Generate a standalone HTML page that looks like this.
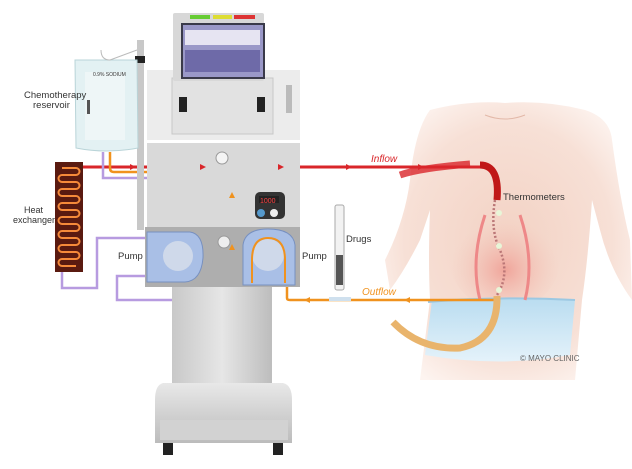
<!DOCTYPE html>
<html><head><meta charset="utf-8"><style>
html,body{margin:0;padding:0;background:#fff;width:632px;height:469px;overflow:hidden}
svg{display:block}
text{font-family:"Liberation Sans",sans-serif}
</style></head><body>
<svg width="632" height="469" viewBox="0 0 632 469" xmlns="http://www.w3.org/2000/svg">
<defs>
<linearGradient id="col" x1="0" x2="1"><stop offset="0" stop-color="#c8c8c8"/><stop offset=".5" stop-color="#e6e6e6"/><stop offset="1" stop-color="#bdbdbd"/></linearGradient>
<linearGradient id="base" x1="0" y1="0" x2="0" y2="1"><stop offset="0" stop-color="#e8e8e8"/><stop offset="1" stop-color="#bcbcbc"/></linearGradient>
<radialGradient id="skin" cx=".5" cy=".5" r=".6"><stop offset="0" stop-color="#f3d2c4"/><stop offset=".7" stop-color="#f7e0d6"/><stop offset="1" stop-color="#fdf4f0"/></radialGradient>
<radialGradient id="belly" cx=".5" cy=".6" r=".5"><stop offset="0" stop-color="#f0a49a"/><stop offset="1" stop-color="#f3c9bd" stop-opacity="0"/></radialGradient>
<linearGradient id="pants" x1="0" y1="0" x2="0" y2="1"><stop offset="0" stop-color="#b9dcf0"/><stop offset="1" stop-color="#e4f2fa"/></linearGradient>
</defs>

<!-- body -->
<path d="M430 110 Q470 100 505 103 Q545 100 585 110 Q610 118 612 140 Q620 200 630 240 L632 300 Q610 270 600 230 L592 200 Q588 260 582 300 L575 380 L420 380 L430 300 Q428 260 430 210 L420 240 Q405 270 390 290 L385 260 Q405 220 410 180 Q415 130 430 110Z" fill="url(#skin)"/>
<ellipse cx="505" cy="260" rx="55" ry="50" fill="url(#belly)"/>
<path d="M485 115 Q505 123 525 115" stroke="#e2b8a8" fill="none"/>
<path d="M432 300 Q500 295 575 300 L570 355 Q500 368 425 355Z" fill="url(#pants)"/>
<path d="M428 302 Q500 296 575 300" stroke="#9cc8e2" stroke-width="2" fill="none"/>
<!-- vessels -->
<path d="M485 215 Q470 260 480 300" stroke="#e88" stroke-width="3" fill="none"/>
<path d="M520 215 Q535 260 525 300" stroke="#e88" stroke-width="3" fill="none"/>
<path d="M495 200 Q490 230 500 250 Q510 275 497 295" stroke="#b77" stroke-width="2.5" stroke-dasharray="2 2" fill="none"/>

<!-- red inflow -->
<path d="M83 167 L480 167 Q500 167 497 200" stroke="#d9262a" stroke-width="3" fill="none"/>
<path d="M480 165 Q500 165 497 200" stroke="#c01818" stroke-width="7" fill="none"/>
<path d="M400 175 Q420 168 470 164" stroke="#d9262a" stroke-width="7" fill="none" opacity=".8"/>
<!-- orange outflow -->
<path d="M287 283 L287 298 Q287 300 290 300 L497 300" stroke="#f0921e" stroke-width="2.5" fill="none"/>
<path d="M497 296 Q498 340 460 348 Q420 350 393 322" stroke="#e9b46c" stroke-width="7" fill="none"/>
<path d="M110 152 L110 168 Q110 172 114 172 L232 172 L232 300 L248 300 L248 283" stroke="#f0921e" stroke-width="2.5" fill="none"/>
<!-- purple -->
<g stroke="#b79be0" stroke-width="2.5" fill="none">
<path d="M103 152 L103 178 L213 178 L213 300 L117 300 L117 276 L147 276"/>
<path d="M62 272 L62 288 L97 288 L97 238 L147 238"/>
</g>

<!-- heat exchanger -->
<rect x="55" y="162" width="28" height="110" fill="#5a1a10"/>
<path d="M62 168 h14 a3 3 0 0 1 0 7 h-14 a3 3 0 0 0 0 7 h14 a3 3 0 0 1 0 7 h-14 a3 3 0 0 0 0 7 h14 a3 3 0 0 1 0 7 h-14 a3 3 0 0 0 0 7 h14 a3 3 0 0 1 0 7 h-14 a3 3 0 0 0 0 7 h14 a3 3 0 0 1 0 7 h-14 a3 3 0 0 0 0 7 h14 a3 3 0 0 1 0 7 h-14 a3 3 0 0 0 0 7 h14 a3 3 0 0 1 0 7 h-14 a3 3 0 0 0 0 7 h14" stroke="#f58a3a" stroke-width="2" fill="none"/>

<!-- pole -->
<rect x="137" y="40" width="7" height="190" fill="#c8c8c8"/>
<rect x="135" y="56" width="10" height="7" fill="#222"/>

<!-- machine -->
<rect x="147" y="70" width="153" height="70" fill="#ececec"/>
<rect x="172" y="78" width="101" height="56" fill="#e2e2e2" stroke="#c8c8c8"/>
<rect x="179" y="97" width="8" height="15" fill="#222"/><rect x="257" y="97" width="8" height="15" fill="#222"/>
<rect x="173" y="13" width="91" height="68" rx="2" fill="#d8d8d8"/>
<rect x="190" y="15" width="20" height="4" fill="#6c3"/><rect x="213" y="15" width="19" height="4" fill="#dd3"/><rect x="234" y="15" width="21" height="4" fill="#d33"/>
<rect x="181" y="23" width="84" height="56" fill="#3a3a4a"/>
<rect x="183" y="25" width="80" height="52" fill="#9a98c8"/>
<rect x="185" y="30" width="75" height="15" fill="#e6e4f2"/>
<rect x="185" y="50" width="75" height="22" fill="#6e6aa8"/>
<rect x="286" y="85" width="6" height="28" fill="#bbb"/>
<rect x="147" y="143" width="153" height="86" fill="#d9d9d9"/>
<circle cx="222" cy="158" r="6" fill="#f4f4f4" stroke="#999"/>
<rect x="255" y="192" width="30" height="27" rx="5" fill="#333"/>
<rect x="259" y="196" width="20" height="7" fill="#222"/><text x="260" y="203" font-size="7" fill="#f44">1000</text>
<circle cx="261" cy="213" r="4" fill="#59c"/><circle cx="274" cy="213" r="4" fill="#eee"/>
<rect x="145" y="227" width="155" height="60" fill="#aeaeae"/>
<path d="M147 232 L190 232 Q204 234 203 258 Q201 281 185 282 L147 282Z" fill="#a9bfe6" stroke="#7790c0"/>
<circle cx="178" cy="256" r="15" fill="#cfd9ea"/>
<path d="M243 285 L243 245 Q245 229 268 229 Q293 229 295 245 L295 285Z" fill="#a9bfe6" stroke="#7790c0"/>
<circle cx="268" cy="255" r="16" fill="#cfd9ea"/>
<path d="M252 283 L252 260 Q252 238 268 238 Q285 238 285 260 L285 283" stroke="#f0921e" stroke-width="2" fill="none"/>
<circle cx="224" cy="242" r="6" fill="#eee" stroke="#999"/>
<rect x="172" y="287" width="100" height="100" fill="url(#col)"/>
<path d="M163 383 Q155 385 155 400 L155 443 L292 443 L292 400 Q292 385 283 383Z" fill="url(#base)"/>
<rect x="160" y="420" width="128" height="20" fill="#d2d2d2"/>
<rect x="163" y="443" width="10" height="12" fill="#222"/><rect x="273" y="443" width="10" height="12" fill="#222"/>

<!-- bag -->
<path d="M75 60 L137 60 L138 148 Q106 154 76 148Z" fill="#e3f1f3" stroke="#b9d4d8"/>
<rect x="85" y="72" width="40" height="68" fill="#eef6f7"/>
<rect x="87" y="100" width="3" height="14" fill="#555"/>
<path d="M101 50 Q101 60 110 60 M110 60 L137 50" stroke="#bbb" fill="none"/>
<text x="93" y="76" font-size="5" fill="#333">0.9% SODIUM</text>

<!-- syringe -->
<rect x="335" y="205" width="9" height="85" rx="2" fill="#f2f2f2" stroke="#aaa"/>
<rect x="336" y="255" width="7" height="30" fill="#555"/>
<rect x="329" y="297" width="22" height="4" fill="#cfe0ee"/>

<!-- arrows -->
<g fill="#d9262a"><path d="M130 164 l6 3 l-6 3z"/><path d="M200 164 l6 3 l-6 3z"/><path d="M278 164 l6 3 l-6 3z"/><path d="M346 164 l6 3 l-6 3z"/><path d="M418 164 l6 3 l-6 3z"/></g>
<g fill="#f0921e"><path d="M229 198 l3 -6 l3 6z"/><path d="M229 250 l3 -6 l3 6z"/><path d="M310 297 l-6 3 l6 3z"/><path d="M410 297 l-6 3 l6 3z"/></g>

<!-- labels -->
<g font-size="9.5" fill="#333">
<text x="24" y="98">Chemotherapy</text><text x="33" y="108">reservoir</text>
<text x="24" y="213" font-size="9">Heat</text><text x="13" y="223" font-size="9">exchanger</text>
<text x="118" y="259">Pump</text><text x="302" y="259">Pump</text>
<text x="346" y="242">Drugs</text>
<text x="503" y="200">Thermometers</text>
<text x="520" y="361" font-family="Liberation Serif" font-size="8" fill="#666">© MAYO CLINIC</text>
</g>
<text x="371" y="162" font-size="10" font-style="italic" fill="#d9262a">Inflow</text>
<text x="362" y="295" font-size="10" font-style="italic" fill="#f0921e">Outflow</text>
<circle cx="499" cy="213" r="3" fill="#e8f6d8"/><circle cx="499" cy="246" r="3" fill="#e8f6d8"/><circle cx="499" cy="290" r="3" fill="#e8f6d8"/>
</svg>
</body></html>
